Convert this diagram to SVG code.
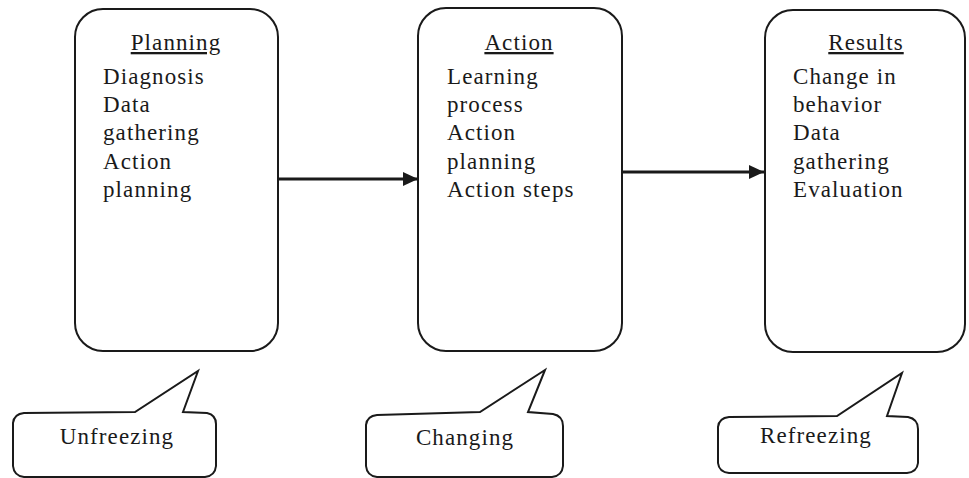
<svg xmlns="http://www.w3.org/2000/svg" width="969" height="478" viewBox="0 0 969 478">
  <style>
    .box { fill: #ffffff; stroke: #1a1a1a; stroke-width: 2; }
    .callout { fill: #ffffff; stroke: #1a1a1a; stroke-width: 2; stroke-linejoin: miter; }
    .txt { font-family: "Liberation Serif", "Times New Roman", serif; font-size: 23px; fill: #1a1a1a; letter-spacing: 1.1px; }
    .head { text-decoration: underline; }
    .link { stroke: #1a1a1a; stroke-width: 3; fill: none; }
  </style>
  <defs>
    <marker id="arrow" markerUnits="userSpaceOnUse" markerWidth="16" markerHeight="14" refX="15" refY="7" orient="auto">
      <path d="M0,0 L15,7 L0,14 Z" fill="#1a1a1a"/>
    </marker>
  </defs>

  <rect width="969" height="478" fill="#ffffff"/>

  <!-- Stage boxes -->
  <g id="planning">
    <rect class="box" x="75" y="9" width="203" height="342" rx="28" ry="28"/>
    <text class="txt head" x="176" y="50" text-anchor="middle">Planning</text>
    <text class="txt" x="103" y="84">Diagnosis</text>
    <text class="txt" x="103" y="112">Data</text>
    <text class="txt" x="103" y="140">gathering</text>
    <text class="txt" x="103" y="169">Action</text>
    <text class="txt" x="103" y="197">planning</text>
  </g>

  <g id="action">
    <rect class="box" x="418" y="8" width="204" height="343" rx="28" ry="28"/>
    <text class="txt head" x="519" y="50" text-anchor="middle">Action</text>
    <text class="txt" x="447" y="84">Learning</text>
    <text class="txt" x="447" y="112">process</text>
    <text class="txt" x="447" y="140">Action</text>
    <text class="txt" x="447" y="169">planning</text>
    <text class="txt" x="447" y="197">Action steps</text>
  </g>

  <g id="results">
    <rect class="box" x="765" y="10" width="200" height="342" rx="28" ry="28"/>
    <text class="txt head" x="866" y="50" text-anchor="middle">Results</text>
    <text class="txt" x="793" y="84">Change in</text>
    <text class="txt" x="793" y="112">behavior</text>
    <text class="txt" x="793" y="140">Data</text>
    <text class="txt" x="793" y="169">gathering</text>
    <text class="txt" x="793" y="197">Evaluation</text>
  </g>

  <!-- Flow arrows between stages -->
  <g id="connectors">
    <line class="link" x1="278" y1="179" x2="418" y2="179" marker-end="url(#arrow)"/>
    <line class="link" x1="622" y1="172" x2="764" y2="172" marker-end="url(#arrow)"/>
  </g>

  <!-- Speech-bubble labels -->
  <g id="unfreezing">
    <path class="callout" d="M13,423 Q14,414 24,413 L135,412 L198,371 L183,412 L207,413 Q216,415 216,424 L216,466 Q215,476 205,477 L24,477 Q14,476 13,466 Z"/>
    <text class="txt" x="117" y="444" text-anchor="middle">Unfreezing</text>
  </g>

  <g id="changing">
    <path class="callout" d="M366,425 Q367,416 377,415 L480,412 L545,370 L528,412 L553,414 Q563,416 563,426 L563,466 Q562,476 552,477 L377,477 Q367,476 366,466 Z"/>
    <text class="txt" x="465" y="445" text-anchor="middle">Changing</text>
  </g>

  <g id="refreezing">
    <path class="callout" d="M718,427 Q719,418 729,417 L837,416 L902,373 L887,416 L908,417 Q918,419 918,429 L918,463 Q917,472 907,473 L729,473 Q719,472 718,463 Z"/>
    <text class="txt" x="816" y="443" text-anchor="middle">Refreezing</text>
  </g>
</svg>
